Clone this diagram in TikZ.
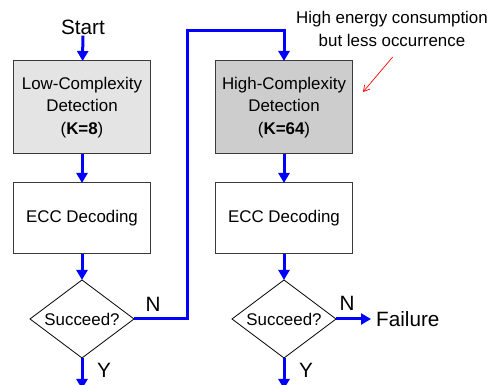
\documentclass[tikz,border=0pt]{standalone}
\usepackage{fontspec}
\setmainfont{Liberation Sans}
\usetikzlibrary{shapes.geometric,arrows.meta}
\definecolor{lowfill}{HTML}{E4E4E4}
\definecolor{highfill}{HTML}{CDCDCD}
\definecolor{edgegray}{HTML}{3A3A3A}
\begin{document}
\begin{tikzpicture}[x=1pt,y=-1pt,
  flow/.style={draw=blue, line width=3pt, line join=miter,
    -{Triangle[width=11pt,length=10pt]}},
  wire/.style={draw=blue, line width=3pt, line join=miter},
  stepbox/.style={draw=edgegray, line width=1pt, minimum width=136.5pt,
    align=center, inner sep=0pt, outer sep=0pt,
    font=\fontsize{16.9}{22.5}\selectfont},
  detect/.style={stepbox, minimum height=93pt},
  decode/.style={stepbox, fill=white, minimum height=71pt},
  test/.style={diamond, draw=black, line width=0.8pt, inner sep=0pt,
    outer sep=0pt, shape aspect=1.333, minimum width=104pt,
    minimum height=78pt, font=\fontsize{16.9}{20}\selectfont},
  big/.style={font=\fontsize{20.7}{24}\selectfont, inner sep=1pt},
  note/.style={align=center, inner sep=0pt,
    font=\fontsize{16.9}{23.4}\selectfont}]
\useasboundingbox (0,0) rectangle (491,385);

% left column: cheap detection first
\node[big] (start) at (83,27) {Start};
\node[detect, fill=lowfill] (lowdet) at (82,107.5)
  {Low-Complexity\\Detection\\(\textbf{K=8})};
\node[decode] (dec1) at (82,218.5) {ECC Decoding};
\node[test] (ok1) at (82,319) {Succeed?};
\coordinate (out1) at (82,389);

% right column: expensive detection as fallback
\node[detect, fill=highfill] (highdet) at (284,107.5)
  {High-Complexity\\Detection\\(\textbf{K=64})};
\node[decode] (dec2) at (284,218.5) {ECC Decoding};
\node[test] (ok2) at (284,319) {Succeed?};
\coordinate (out2) at (284,389);
\node[big, anchor=west, inner sep=5pt] (fail) at (371,319) {Failure};

% flow arrows
\draw[flow] (start) -- (lowdet);
\draw[flow] (lowdet) -- (dec1);
\draw[flow] (dec1) -- (ok1);
\draw[flow] (ok1) -- (out1);
\coordinate (bendA) at (187,319);
\coordinate (bendB) at (187,31);
\draw[flow] (ok1.east) -- (bendA) -- (bendB) -| (highdet.north);
\draw[flow] (highdet) -- (dec2);
\draw[flow] (dec2) -- (ok2);
\draw[flow] (ok2) -- (out2);
\draw[flow] (ok2.east) -- (fail.west);

% branch labels
\node[big] (n1) at (153,304) {N};
\node[big] (y1) at (104,370) {Y};
\node[big] (n2) at (347,303) {N};
\node[big] (y2) at (306,370) {Y};

% remark on the expensive stage
\node[note] (remark) at (392,29)
  {High energy consumption\\but less occurrence};
\coordinate (remTail) at (392.7,57);
\coordinate (remTip) at (363,92);
\draw[red, line width=0.7pt, -{Straight Barb[length=6pt,width=7pt]}]
  (remTail) -- (remTip);
\end{tikzpicture}
\end{document}
